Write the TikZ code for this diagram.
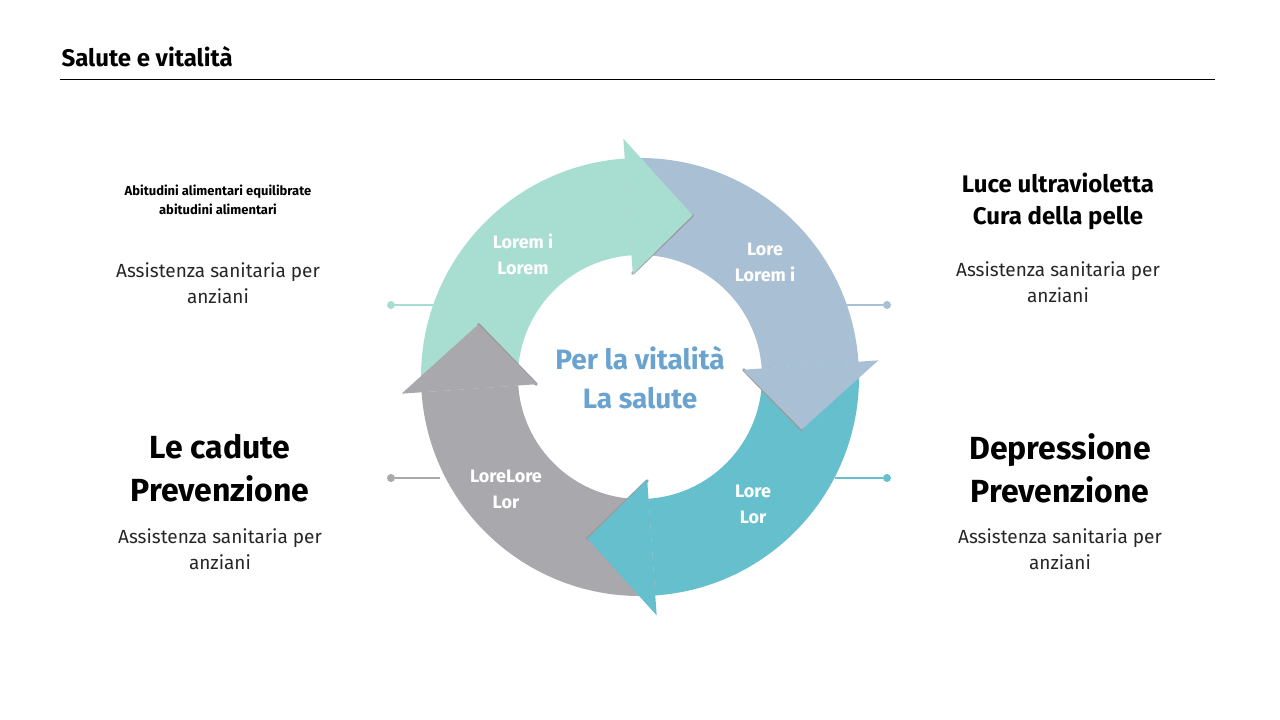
\documentclass[tikz,border=0pt]{standalone}
\usepackage{fontspec}
\setmainfont{Fira Sans}
\begin{document}
\begin{tikzpicture}[x=1pt,y=-1pt,
  lbl/.style={font=\bfseries\fontsize{18}{26}\selectfont,text=white,align=center},
  body/.style={font=\fontsize{19}{26}\selectfont,align=center,text=black!85},
  dot/.style={circle,inner sep=0pt,minimum size=8pt}]
\useasboundingbox (0,0) rectangle (1280,720);
\definecolor{cg}{HTML}{A8DDD2}
\definecolor{cb}{HTML}{A9BFD3}
\definecolor{ct}{HTML}{66BFCC}
\definecolor{cy}{HTML}{A9A8AC}
\definecolor{ctx}{HTML}{6AA3CF}
\node[anchor=west,font=\bfseries\fontsize{24}{28}\selectfont] (title) at (58,57) {Salute e vitalità};
\draw[line width=1pt] (60,79) -- (1215,79);
% connectors
\node[dot,fill=cg] (d1) at (391,305) {}; \coordinate (e1) at (440,305);
\draw[cg,line width=2pt] (d1) -- (e1);
\node[dot,fill=cb] (d2) at (887,305) {}; \coordinate (e2) at (840,305);
\draw[cb,line width=2pt] (d2) -- (e2);
\node[dot,fill=cy] (d3) at (391,478) {}; \coordinate (e3) at (440,478);
\draw[cy,line width=2pt] (d3) -- (e3);
\node[dot,fill=ct] (d4) at (887,478) {}; \coordinate (e4) at (835,478);
\draw[ct,line width=2pt] (d4) -- (e4);
% ring
\begin{scope}[shift={(640,377)}]
\foreach \s/\b/\c in {184/94/cg, 94/4/cb, 4/-86/ct, -86/-176/cy}{
  \fill[\c] (\s:219pt) arc[start angle=\s,end angle=\b,radius=219pt] -- (\b:122pt) arc[start angle=\b,end angle=\s,radius=122pt] -- cycle;
}
\foreach \b/\c in {94/cg, 4/cb, -86/ct, -176/cy}{
  \pgfmathsetmacro{\t}{\b-22}
  \draw[black!40,line width=3pt,line cap=round] (\b:104pt) -- (\t:170pt);
  \fill[\c] (\b:103pt) -- (\b:239pt) -- (\t:170pt) -- cycle;
}
\end{scope}
\node[lbl] (l1) at (523,254) {Lorem i\\Lorem};
\node[lbl] (l2) at (765,262) {Lore\\Lorem i};
\node[lbl] (l3) at (753,504) {Lore\\Lor};
\node[lbl] (l4) at (506,489) {LoreLore\\Lor};
\node[font=\bfseries\fontsize{28}{39}\selectfont,text=ctx,align=center] (c) at (640,378) {Per la vitalità\\La salute};
% texts
\node[font=\bfseries\fontsize{13}{19}\selectfont,align=center] (t1) at (218,200) {Abitudini alimentari equilibrate\\abitudini alimentari};
\node[body] (b1) at (218,283) {Assistenza sanitaria per\\anziani};
\node[font=\bfseries\fontsize{24}{32}\selectfont,align=center] (t2) at (1058,201) {Luce ultravioletta\\Cura della pelle};
\node[body] (b2) at (1058,282) {Assistenza sanitaria per\\anziani};
\node[font=\bfseries\fontsize{32}{43}\selectfont,align=center] (t3) at (220,468) {Le cadute\\Prevenzione};
\node[body] (b3) at (220,549) {Assistenza sanitaria per\\anziani};
\node[font=\bfseries\fontsize{32}{43}\selectfont,align=center] (t4) at (1060,468) {Depressione\\Prevenzione};
\node[body] (b4) at (1060,549) {Assistenza sanitaria per\\anziani};
\end{tikzpicture}
\end{document}
